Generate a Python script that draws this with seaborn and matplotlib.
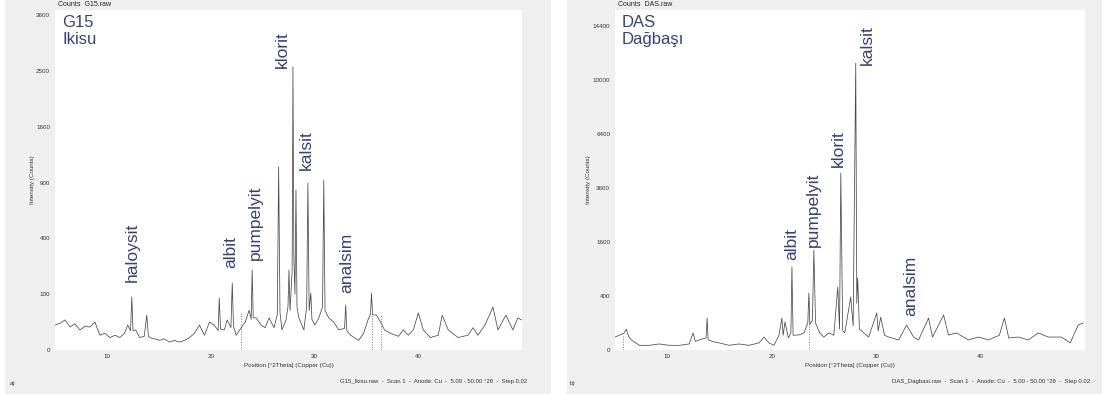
import matplotlib
matplotlib.use("Agg")
import matplotlib.pyplot as plt
from matplotlib.patches import Rectangle
import numpy as np
import pandas as pd
import seaborn as sns

W, H = 1107, 394

# G15 - Ikisu : position (deg 2theta) and counts
g15_2theta = [5.01, 5.49, 5.97, 6.45, 6.90, 7.41, 7.90, 8.37, 8.85, 9.33, 9.80, 10.29,
              10.80, 11.25, 11.70, 12.01, 12.28, 12.40, 12.52, 12.78, 13.16, 13.60, 13.84,
              14.00, 14.12, 14.60, 15.08, 15.50, 16.04, 16.50, 17.00, 17.50, 17.96, 18.44,
              18.92, 19.40, 19.88, 20.35, 20.72, 20.83, 20.95, 21.31, 21.60, 21.95, 22.08,
              22.20, 22.46, 22.94, 23.33, 23.71, 23.90, 24.00, 24.10, 24.38, 24.86, 25.24,
              25.63, 26.11, 26.42, 26.55, 26.68, 26.87, 27.26, 27.45, 27.55, 27.65, 27.85,
              27.93, 28.01, 28.12, 28.22, 28.32, 28.50, 28.98, 29.25, 29.37, 29.49, 29.65,
              29.76, 30.04, 30.42, 30.78, 30.90, 31.02, 31.38, 31.86, 32.34, 32.90, 33.01,
              33.12, 33.49, 34.26, 34.74, 35.22, 35.40, 35.50, 35.60, 35.98, 36.37, 36.75,
              37.33, 38.09, 38.57, 39.05, 39.53, 40.01, 40.49, 41.16, 41.93, 42.31, 42.89,
              43.84, 44.80, 45.28, 45.76, 46.43, 47.20, 47.68, 48.45, 49.12, 49.60, 49.95]
g15_counts = [20, 23, 29, 17, 22, 13, 18, 17, 25, 7, 9, 5,
              7, 5, 9, 20, 12, 90, 12, 13, 5, 6, 39,
              6, 5, 4, 3, 4, 2, 3, 2, 3, 5, 9,
              20, 7, 25, 20, 12, 87, 14, 13, 29, 16, 144,
              18, 7, 16, 25, 51, 30, 206, 33, 33, 20, 16,
              33, 16, 40, 1076, 45, 13, 29, 60, 206, 50, 200,
              2572, 300, 100, 822, 60, 33, 13, 60, 896, 50, 104,
              30, 20, 33, 60, 928, 50, 33, 25, 13, 15, 65,
              12, 7, 3, 9, 33, 40, 104, 40, 39, 25, 13,
              9, 6, 13, 7, 13, 44, 13, 5, 7, 39, 13,
              5, 7, 16, 7, 20, 59, 13, 39, 13, 33, 29]

# DAS - Dagbasi
das_2theta = [5.00, 5.42, 5.89, 6.08, 6.30, 6.56, 7.33, 8.28, 9.24, 10.19, 11.15, 12.10,
              12.48, 12.70, 13.06, 13.72, 13.82, 13.92, 14.49, 14.97, 15.92, 16.88, 17.83,
              18.79, 19.26, 19.74, 20.22, 20.70, 20.98, 21.10, 21.27, 21.60, 21.84, 21.94,
              22.05, 22.61, 23.09, 23.46, 23.56, 23.66, 23.90, 24.04, 24.20, 24.60, 24.99,
              25.47, 25.95, 26.33, 26.50, 26.62, 26.80, 27.00, 27.57, 27.80, 28.05, 28.15,
              28.24, 28.40, 28.82, 29.29, 30.06, 30.20, 30.44, 30.80, 31.20, 32.16, 32.92,
              33.59, 34.07, 35.02, 35.40, 36.46, 36.93, 37.70, 38.84, 39.80, 40.75, 41.80,
              42.28, 42.70, 43.62, 44.57, 45.53, 46.49, 47.73, 48.59, 49.35, 49.83]
das_counts = [23, 30, 40, 60, 25, 14, 3, 3, 5, 3, 3, 5,
              40, 10, 14, 20, 140, 14, 9, 7, 3, 5, 3,
              7, 23, 7, 3, 30, 140, 30, 108, 20, 40, 945,
              30, 31, 40, 100, 446, 90, 120, 1372, 100, 40, 23,
              40, 30, 545, 60, 4298, 50, 40, 385, 80, 11299, 300,
              711, 60, 40, 23, 188, 50, 149, 30, 23, 14, 86,
              23, 14, 140, 23, 168, 31, 40, 14, 23, 14, 30,
              140, 20, 23, 14, 40, 23, 23, 7, 86, 100]

g15_minerals = ["haloysit", "albit", "pumpelyit", "klorit", "kalsit", "analsim"]
g15_label_2theta = [12.40, 21.98, 24.29, 26.87, 29.27, 33.11]
g15_label_counts = [149, 216, 260, 2554, 1041, 104]

das_minerals = ["albit", "pumpelyit", "klorit", "kalsit", "analsim"]
das_label_2theta = [21.94, 24.04, 26.43, 29.20, 33.30]
das_label_counts = [1111, 1455, 4594, 11143, 159]

g15_yticks = [0, 100, 400, 900, 1600, 2500, 3600]
das_yticks = [0, 400, 1600, 3600, 6400, 10000, 14400]
xticks = [10, 20, 30, 40]

sns.set_theme(style="white")
plt.rcParams["font.family"] = ["Liberation Sans", "DejaVu Sans"]

LABEL_COLOR = "#36407c"
FRAME = "#efefef"


def px_box(x0, y0, x1, y1):
    return [x0 / W, 1 - y1 / H, (x1 - x0) / W, (y1 - y0) / H]


def sqrt_fwd(v):
    return np.sqrt(np.clip(v, 0, None))


def sqrt_inv(v):
    return np.square(v)


fig = plt.figure(figsize=(W / 100, H / 100), dpi=100, facecolor="white")
bg = fig.add_axes([0, 0, 1, 1], zorder=-10)
bg.set_xlim(0, W)
bg.set_ylim(H, 0)
bg.axis("off")
for x0, x1 in [(5, 551), (567, 1102)]:
    bg.add_patch(Rectangle((x0, 0), x1 - x0, H, facecolor=FRAME, edgecolor="none"))

panels = [
    dict(box=(55, 10, 522, 350), tt=g15_2theta, cc=g15_counts, yticks=g15_yticks, ymax=3709,
         names=g15_minerals, lx=g15_label_2theta, ly=g15_label_counts,
         sample="G15\nIkisu", head="Counts  G15.raw", markers=([22.94, 35.55, 36.45], [45, 40, 40]),
         foot="G15_Ikisu.raw  -  Scan 1  -  Anode: Cu  -  5.00 - 50.00 \u00b02\u03b8  -  Step 0.02",
         corner="a)"),
    dict(box=(615, 10, 1085, 350), tt=das_2theta, cc=das_counts, yticks=das_yticks, ymax=15876,
         names=das_minerals, lx=das_label_2theta, ly=das_label_counts,
         sample="DAS\nDa\u011fba\u015f\u0131", head="Counts  DAS.raw", markers=([5.8, 23.56], [30, 385]),
         foot="DAS_Dagbasi.raw  -  Scan 1  -  Anode: Cu  -  5.00 - 50.00 \u00b02\u03b8  -  Step 0.02",
         corner="b)"),
]

for p in panels:
    x0, y0, x1, y1 = p["box"]
    ax = fig.add_axes(px_box(x0, y0, x1, y1))
    ax.set_facecolor("white")
    ax.set_yscale("function", functions=(sqrt_fwd, sqrt_inv))
    df = pd.DataFrame({"pos": p["tt"], "counts": p["cc"]})
    sns.lineplot(data=df, x="pos", y="counts", ax=ax, color="#2a2a2a", linewidth=0.55,
                 alpha=0.85, estimator=None, sort=False)
    ax.vlines(p["markers"][0], 0, p["markers"][1], colors="#777777", linestyles=":", linewidth=0.7)
    for name, lx, ly in zip(p["names"], p["lx"], p["ly"]):
        ax.text(lx, ly, name, rotation=90, ha="center", va="bottom", fontsize=12.5,
                color=LABEL_COLOR)
    ax.text(0.015, 0.985, p["sample"], transform=ax.transAxes, ha="left", va="top",
            fontsize=12, color=LABEL_COLOR, linespacing=1.15)
    ax.set_xlim(5, 50)
    ax.set_ylim(0, p["ymax"])
    ax.set_xticks(xticks)
    ax.set_yticks(p["yticks"])
    ax.set_yticklabels([str(t) for t in p["yticks"]])
    ax.tick_params(axis="both", labelsize=4.5, colors="#333333", length=2, width=0.6,
                   pad=1.5, direction="out")
    ax.tick_params(axis="x", length=0, pad=3)
    for s in ax.spines.values():
        s.set_visible(False)
    ax.set_xlabel("Position [\u00b02Theta] (Copper (Cu))", fontsize=4.5, color="#333333",
                  labelpad=3)
    ax.set_ylabel("Intensity (Counts)", fontsize=4.5, color="#333333", labelpad=1)
    fig.text((x0 + 3) / W, 1 - 5 / H, p["head"], fontsize=5, color="#222222",
             ha="left", va="center")
    fig.text((x1 + 5) / W, 1 - 381 / H, p["foot"], fontsize=4.3, color="#333333",
             ha="right", va="center")
    fig.text((x0 - 45) / W, 1 - 383 / H, p["corner"], fontsize=4.5, color="#333333",
             ha="left", va="center")

fig.savefig("out.png", dpi=100, facecolor=fig.get_facecolor())
